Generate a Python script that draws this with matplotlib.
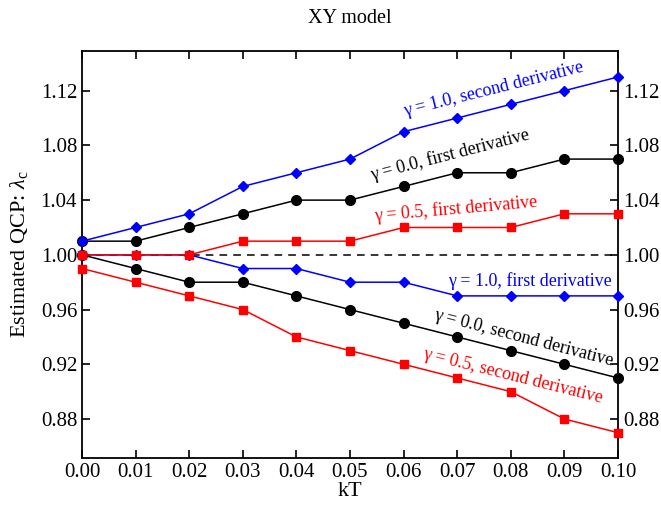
import matplotlib
matplotlib.use("Agg")
import matplotlib.pyplot as plt
import numpy as np

plt.rcParams['font.family'] = ['Liberation Serif', 'DejaVu Serif']
plt.rcParams['mathtext.fontset'] = 'custom'
plt.rcParams['mathtext.rm'] = 'Liberation Serif'
plt.rcParams['mathtext.it'] = 'Liberation Serif:italic'

kT = [0.00, 0.01, 0.02, 0.03, 0.04, 0.05, 0.06, 0.07, 0.08, 0.09, 0.10]
g10_second = [1.01, 1.02, 1.03, 1.05, 1.06, 1.07, 1.09, 1.10, 1.11, 1.12, 1.13]
g00_first = [1.01, 1.01, 1.02, 1.03, 1.04, 1.04, 1.05, 1.06, 1.06, 1.07, 1.07]
g05_first = [1.00, 1.00, 1.00, 1.01, 1.01, 1.01, 1.02, 1.02, 1.02, 1.03, 1.03]
g10_first = [1.00, 1.00, 1.00, 0.99, 0.99, 0.98, 0.98, 0.97, 0.97, 0.97, 0.97]
g00_second = [1.00, 0.99, 0.98, 0.98, 0.97, 0.96, 0.95, 0.94, 0.93, 0.92, 0.91]
g05_second = [0.99, 0.98, 0.97, 0.96, 0.94, 0.93, 0.92, 0.91, 0.90, 0.88, 0.87]

xticks = [0.00, 0.01, 0.02, 0.03, 0.04, 0.05, 0.06, 0.07, 0.08, 0.09, 0.10]
yticks = [0.88, 0.92, 0.96, 1.00, 1.04, 1.08, 1.12]

fig = plt.figure(figsize=(6.61, 5.09), dpi=100)
ax = fig.add_axes([82/661, 1 - 458/509, (618-82)/661, (458-51)/509])

ax.axhline(1.0, color='black', ls=(0, (5, 4)), lw=1.1, zorder=1)

ax.plot(kT, g05_second, color='red', marker='s', ms=6, lw=1.1, clip_on=False, zorder=3)
ax.plot(kT, g00_second, color='black', marker='o', ms=7, lw=1.1, clip_on=False, zorder=3)
ax.plot(kT, g10_first, color='blue', marker='D', ms=5, lw=1.1, clip_on=False, zorder=3)
ax.plot(kT, g05_first, color='red', marker='s', ms=6, lw=1.1, clip_on=False, zorder=3)
ax.plot(kT, g00_first, color='black', marker='o', ms=7, lw=1.1, clip_on=False, zorder=3)
ax.plot(kT, g10_second, color='blue', marker='D', ms=5, lw=1.1, clip_on=False, zorder=4)

ax.set_xlim(0.0, 0.10)
ax.set_ylim(0.8515, 1.149)
ax.set_xticks(xticks)
ax.set_xticklabels([f"{v:.2f}" for v in xticks])
ax.set_yticks(yticks)
ax.set_yticklabels([f"{v:.2f}" for v in yticks])
ax.tick_params(direction='in', length=6, width=1.2, labelsize=15,
               top=True, right=True, labelright=True)
for s in ax.spines.values():
    s.set_linewidth(1.3)

ax.set_xlabel('kT', fontsize=16, labelpad=0)
ax.set_ylabel(r'Estimated QCP: $\lambda_\mathrm{c}$', fontsize=16, labelpad=8)
ax.set_title('XY model', fontsize=14.5, pad=20)

fs = 13
kw = dict(fontsize=fs, ha='left', va='baseline', rotation_mode='anchor')
ax.text(0.0603, 1.1013, 'γ = 1.0, second derivative', color='blue', rotation=14, **kw)
ax.text(0.0541, 1.0546, 'γ = 0.0, first derivative', color='black', rotation=14.5, **kw)
ax.text(0.0547, 1.0249, 'γ = 0.5, first derivative', color='red', rotation=5, **kw)
ax.text(0.0683, 0.9773, 'γ = 1.0, first derivative', color='blue', rotation=0, **kw)
ax.text(0.0655, 0.9527, 'γ = 0.0, second derivative', color='black', rotation=-14.6, **kw)
ax.text(0.0634, 0.9246, 'γ = 0.5, second derivative', color='red', rotation=-14, **kw)

fig.savefig('out.png', dpi=100)
